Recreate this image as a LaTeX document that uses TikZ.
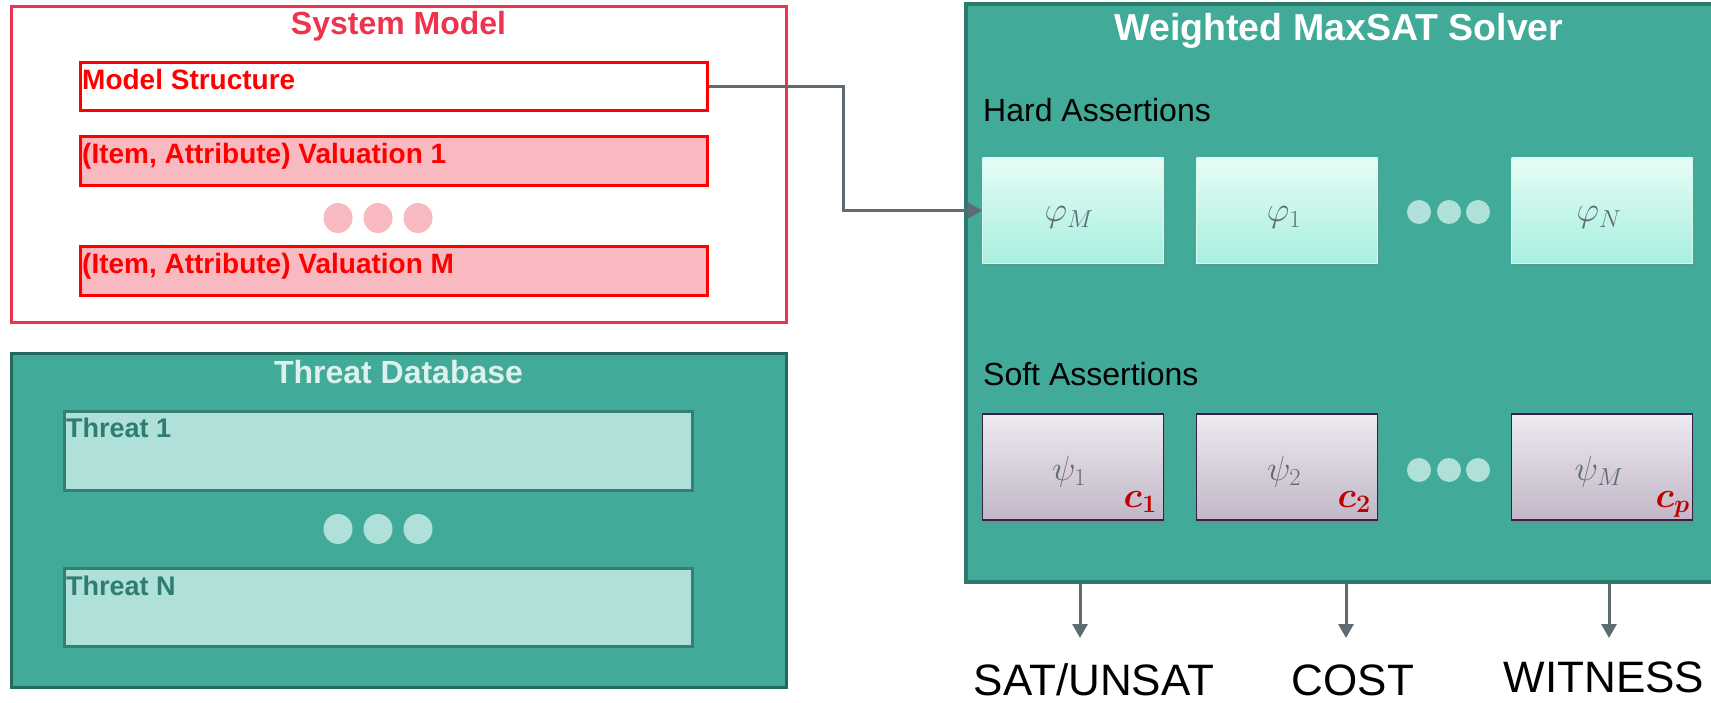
\documentclass[tikz,border=0pt]{standalone}
\usepackage{fix-cm}
\usepackage{fontspec}
\setmainfont{Liberation Sans}
\usetikzlibrary{shadows,arrows.meta}
\definecolor{smred}{HTML}{EE334E}
\definecolor{pinkfill}{HTML}{F8B9C0}
\definecolor{tealbg}{HTML}{41AA98}
\definecolor{tealdark}{HTML}{2C7A6E}
\definecolor{threatfill}{HTML}{B0E0DA}
\definecolor{threatborder}{HTML}{327F73}
\definecolor{threattext}{HTML}{2E7D70}
\definecolor{titlelight}{HTML}{DDF2EE}
\definecolor{dotteal}{HTML}{B0E0DA}
\definecolor{arrowgray}{HTML}{5F6B73}
\definecolor{hardtop}{HTML}{E6FCF6}
\definecolor{hardbot}{HTML}{A8EFDF}
\definecolor{softtop}{HTML}{EDEAF0}
\definecolor{softbot}{HTML}{C2B7C8}
\definecolor{softborder}{HTML}{3B1E4A}
\definecolor{mathgray}{HTML}{5E6A74}
\definecolor{cred}{HTML}{C00000}
\tikzset{
  outerred/.style={draw=smred, line width=3pt, fill=white, inner sep=0pt},
  itembox/.style={draw=red, line width=3pt, inner sep=0pt},
  redtext/.style={text=red, font=\bfseries\fontsize{28}{32}\selectfont, inner sep=0pt, anchor=base west},
  tealouter/.style={draw=tealdark, line width=3pt, fill=tealbg, inner sep=0pt},
  threatbox/.style={draw=threatborder, line width=3pt, fill=threatfill, inner sep=0pt},
  threattxt/.style={text=threattext, font=\bfseries\fontsize{27}{31}\selectfont, inner sep=0pt, anchor=base west},
  titletxt/.style={font=\bfseries\fontsize{32}{38}\selectfont, inner sep=0pt, anchor=base},
  hardbox/.style={inner sep=0pt, minimum width=181pt, minimum height=105pt, top color=hardtop, bottom color=hardbot, draw=hardtop!80!hardbot, line width=0.6pt, drop shadow={opacity=0.35, shadow xshift=1pt, shadow yshift=-3pt}},
  softbox/.style={inner sep=0pt, minimum width=181pt, minimum height=106pt, top color=softtop, bottom color=softbot, draw=softborder, line width=1.5pt, drop shadow={opacity=0.35, shadow xshift=1pt, shadow yshift=-3pt}},
  mlabel/.style={text=mathgray, font=\fontsize{35}{40}\selectfont, inner sep=0pt, anchor=base},
  clabel/.style={text=cred, font=\fontsize{36}{40}\selectfont\boldmath, inner sep=0pt, anchor=base east},
  sectxt/.style={text=black, font=\fontsize{32}{38}\selectfont, inner sep=0pt, anchor=base west},
  outtxt/.style={text=black, font=\fontsize{44}{50}\selectfont, inner sep=0pt, anchor=base},
  conn/.style={draw=arrowgray, line width=3pt, -{Triangle[length=14pt,width=15pt]}},
}
\begin{document}
\begin{tikzpicture}[x=1pt,y=-1pt]
\useasboundingbox (0,0) rectangle (1711,703);

% System Model
\node[outerred, minimum width=775pt, minimum height=316pt] (sys) at (398.5,165) {};
\node[titletxt, text=smred] (systitle) at (398.5,35) {System Model};
\node[itembox, fill=white, minimum width=627pt, minimum height=48pt] (ms) at (393.5,87) {};
\node[redtext] (mstxt) at (82,90) {Model Structure};
\node[itembox, fill=pinkfill, minimum width=627pt, minimum height=49pt] (v1) at (393.5,161.5) {};
\node[redtext] (v1txt) at (82,164) {(Item, Attribute) Valuation 1};
\node[itembox, fill=pinkfill, minimum width=627pt, minimum height=49pt] (vm) at (393.5,271.5) {};
\node[redtext] (vmtxt) at (82,274) {(Item, Attribute) Valuation M};
\foreach \x in {338,378,418}
  \fill[pinkfill] (\x,218) ellipse [x radius=14.5pt, y radius=15pt];

% Threat Database
\node[tealouter, draw=tealdark!85!black, minimum width=775pt, minimum height=334pt] (tdb) at (398.5,520) {};
\node[titletxt, text=titlelight] (tdbtitle) at (398.5,383) {Threat Database};
\node[threatbox, minimum width=628pt, minimum height=79pt] (t1) at (378,450.5) {};
\node[threattxt] (t1txt) at (66,437) {Threat 1};
\node[threatbox, minimum width=628pt, minimum height=78pt] (tn) at (378,607) {};
\node[threattxt] (tntxt) at (66,595) {Threat N};
\foreach \x in {338,378,418}
  \fill[dotteal] (\x,529) ellipse [x radius=14.5pt, y radius=15pt];

% Weighted MaxSAT Solver
\node[tealouter, line width=4pt, draw=tealdark, minimum width=750pt, minimum height=578pt] (solver) at (1341,293) {};
\node[titletxt, text=white, font=\bfseries\fontsize{37.5}{44}\selectfont] (soltitle) at (1339,41) {Weighted MaxSAT Solver};
\node[sectxt] (hardtxt) at (983,122) {Hard Assertions};
\node[sectxt] (softtxt) at (983,385) {Soft Assertions};

\node[hardbox] (hM) at (1073,210.5) {};
\node[hardbox] (h1) at (1287,210.5) {};
\node[hardbox] (hN) at (1602,210.5) {};
\node[mlabel] (lM) at (1069,222) {$\varphi_M$};
\node[mlabel] (l1) at (1284,222) {$\varphi_1$};
\node[mlabel] (lN) at (1599,222) {$\varphi_N$};
\foreach \x in {1419,1449,1478}
  \fill[dotteal] (\x,212) circle [radius=12pt];

\node[softbox] (s1) at (1073,467) {};
\node[softbox] (s2) at (1287,467) {};
\node[softbox] (sM) at (1602,467) {};
\node[mlabel] (p1) at (1069,480) {$\psi_1$};
\node[mlabel] (p2) at (1284,480) {$\psi_2$};
\node[mlabel] (pM) at (1599,480) {$\psi_M$};
\node[clabel] (c1) at (1157,507) {$c_1$};
\node[clabel] (c2) at (1371,507) {$c_2$};
\node[clabel] (cp) at (1690,507) {$c_p$};
\foreach \x in {1419,1449,1478}
  \fill[dotteal] (\x,470) circle [radius=12pt];

% connector
\coordinate (turn) at (843,87);
\draw[conn] (ms.east) -- (turn) |- (hM.west);

% outputs
\coordinate (o1) at (1080,638);
\coordinate (o2) at (1346,638);
\coordinate (o3) at (1609,638);
\draw[conn] (solver.south -| o1) -- (o1);
\draw[conn] (solver.south -| o2) -- (o2);
\draw[conn] (solver.south -| o3) -- (o3);
\node[outtxt] (sat) at (1094,695) {SAT/UNSAT};
\node[outtxt] (cost) at (1353,695) {COST};
\node[outtxt] (wit) at (1604,692) {WITNESS};
\end{tikzpicture}
\end{document}
